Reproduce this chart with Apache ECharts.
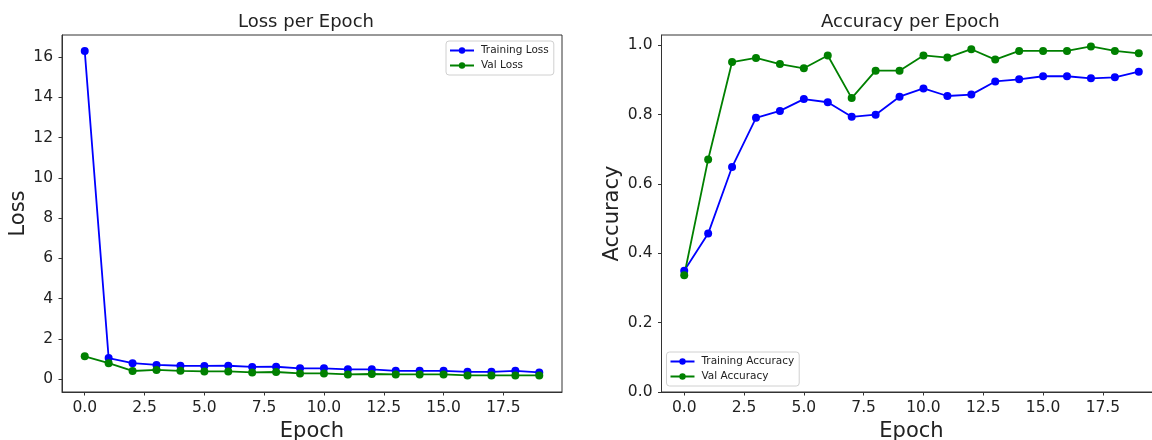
<!DOCTYPE html>
<html>
<head>
<meta charset="utf-8">
<script src="https://cdn.jsdelivr.net/npm/echarts@6/dist/echarts.min.js"></script>
<style>
html,body{margin:0;padding:0;background:#fff;overflow:hidden;width:1152px;height:440px;}
#chart{width:1175px;height:440px;}
</style>
</head>
<body>
<div id="chart"></div>
<script>
const epochs = [0,1,2,3,4,5,6,7,8,9,10,11,12,13,14,15,16,17,18,19];
const trainLoss = [16.31,1.04,0.79,0.70,0.66,0.65,0.66,0.60,0.61,0.53,0.53,0.48,0.48,0.41,0.41,0.41,0.36,0.36,0.41,0.33];
const valLoss = [1.13,0.79,0.40,0.45,0.41,0.38,0.38,0.33,0.35,0.28,0.28,0.23,0.25,0.23,0.23,0.23,0.18,0.18,0.18,0.18];
const trainAcc = [0.350,0.457,0.649,0.791,0.811,0.845,0.836,0.794,0.800,0.852,0.876,0.854,0.858,0.896,0.902,0.911,0.911,0.905,0.908,0.924];
const valAcc = [0.337,0.671,0.952,0.964,0.946,0.934,0.971,0.848,0.927,0.927,0.971,0.965,0.989,0.959,0.984,0.984,0.984,0.997,0.984,0.977];
const xTicks = [0,2.5,5,7.5,10,12.5,15,17.5];
const lossTicks = [0,2,4,6,8,10,12,14,16];
const accTicks = [0,0.2,0.4,0.6,0.8,1.0];

const FONT = 'DejaVu Sans';
const BLUE = '#0000ff', GREEN = '#008000';

function pairs(vals){ return epochs.map((e,i)=>[e, vals[i]]); }

function xAxisCfg(gi){
  return {
    type:'value', gridIndex:gi, min:-0.95, max:19.95,
    name:'Epoch', nameLocation:'middle', nameGap:27,
    nameTextStyle:{fontFamily:FONT,fontSize:21,color:'#222'},
    axisLine:{show:true,onZero:false,lineStyle:{color:'#333',width:1}},
    axisTick:{show:true,length:3.5,customValues:xTicks,lineStyle:{color:'#333'}},
    axisLabel:{customValues:xTicks,margin:8,fontFamily:FONT,fontSize:15.5,color:'#222',
      formatter:v=>Number(v).toFixed(1)},
    splitLine:{show:false}
  };
}
function yAxisCfg(gi,min,max,ticks,name,gap,fmt){
  return {
    type:'value', gridIndex:gi, min:min, max:max,
    name:name, nameLocation:'middle', nameGap:gap, nameRotate:90,
    nameTextStyle:{fontFamily:FONT,fontSize:21,color:'#222'},
    axisLine:{show:true,onZero:false,lineStyle:{color:'#333',width:1}},
    axisTick:{show:true,length:3.5,customValues:ticks,lineStyle:{color:'#333'}},
    axisLabel:{customValues:ticks,margin:9,fontFamily:FONT,fontSize:15.5,color:'#222',formatter:fmt},
    splitLine:{show:false}
  };
}
function lineSeries(name,vals,color,xi,yi){
  return {
    type:'line', name:name, xAxisIndex:xi, yAxisIndex:yi,
    data:pairs(vals), symbol:'circle', symbolSize:8, showSymbol:true,
    lineStyle:{color:color,width:1.8}, itemStyle:{color:color},
    emphasis:{disabled:true}
  };
}
function legendCfg(names,left,top){
  return {
    data:names, orient:'vertical', left:left, top:top,
    padding:[4,5,4,3], itemWidth:24, itemHeight:8, itemGap:4,
    borderColor:'#d0d0d0', borderWidth:1, borderRadius:3,
    backgroundColor:'rgba(255,255,255,0.8)',
    textStyle:{fontFamily:FONT,fontSize:10.5,color:'#222',padding:[0,0,0,2]}
  };
}
function gridCfg(left){
  return {left:left, top:35, width:500, height:357, show:true, borderColor:'#333', borderWidth:1,
    backgroundColor:'#fff', containLabel:false, outerBoundsMode:'none'};
}

const chart = echarts.init(document.getElementById('chart'), null, {renderer:'canvas'});
chart.setOption({
  animation:false,
  backgroundColor:'#fff',
  title:[
    {text:'Loss per Epoch', left:238, top:13, padding:0,
     textStyle:{fontFamily:FONT,fontSize:18,fontWeight:'normal',color:'#222'}},
    {text:'Accuracy per Epoch', left:821, top:13, padding:0,
     textStyle:{fontFamily:FONT,fontSize:18,fontWeight:'normal',color:'#222'}}
  ],
  grid:[gridCfg(62), gridCfg(661.5)],
  xAxis:[xAxisCfg(0), xAxisCfg(1)],
  yAxis:[
    yAxisCfg(0,-0.645,17.1,lossTicks,'Loss',31,v=>String(Math.round(v))),
    yAxisCfg(1,0,1.03,accTicks,'Accuracy',38,v=>Number(v).toFixed(1))
  ],
  legend:[
    legendCfg(['Training Loss','Val Loss'],446,41),
    legendCfg(['Training Accuracy','Val Accuracy'],666.5,352)
  ],
  series:[
    lineSeries('Training Loss',trainLoss,BLUE,0,0),
    lineSeries('Val Loss',valLoss,GREEN,0,0),
    lineSeries('Training Accuracy',trainAcc,BLUE,1,1),
    lineSeries('Val Accuracy',valAcc,GREEN,1,1)
  ]
});
</script>
</body>
</html>
